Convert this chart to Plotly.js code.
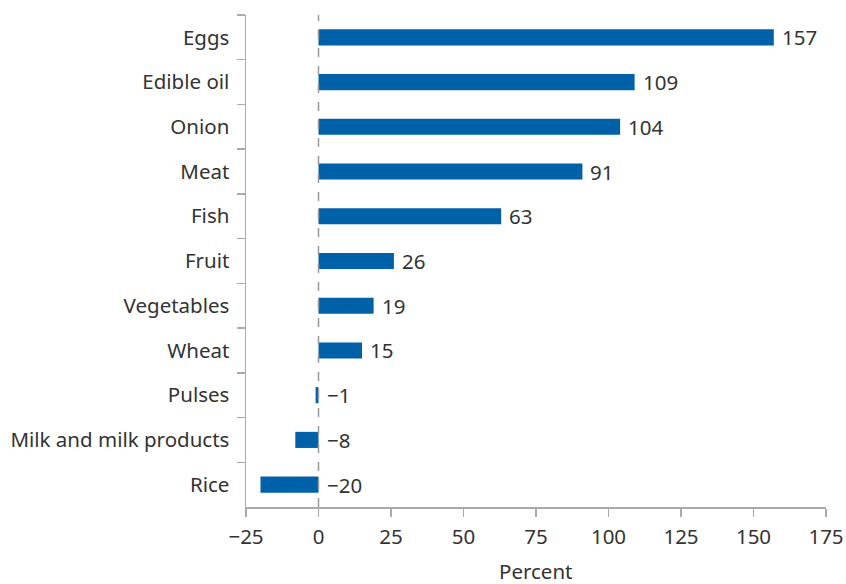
<!DOCTYPE html>
<html><head><meta charset="utf-8">
<script src="https://cdn.plot.ly/plotly-3.0.1.min.js"></script>
<style>html,body{margin:0;padding:0;background:#fff}#chart{width:846px;height:584px}</style>
</head><body><div id="chart"></div>
<script>
const categories = ["Eggs","Edible oil","Onion","Meat","Fish","Fruit","Vegetables","Wheat","Pulses","Milk and milk products","Rice"];
const values = [157,109,104,91,63,26,19,15,-1,-8,-20];
const xTicks = [-25,0,25,50,75,100,125,150,175];
const xTickLabels = xTicks.map(v => v < 0 ? "\u2212" + Math.abs(v) : String(v));
const xTitle = "Percent";
const fmt = v => v < 0 ? "\u2212" + Math.abs(v) : String(v);

const font = {family: "Noto Sans, Open Sans, sans-serif", size: 20.5, color: "#333"};

const annotations = categories.map((c, i) => ({
  x: Math.max(values[i], 0), y: c, xref: "x", yref: "y",
  text: fmt(values[i]), showarrow: false, xanchor: "left", xshift: 6,
  font: font
}));
annotations.push({
  x: 0.5, y: 0, xref: "paper", yref: "paper", yshift: -64,
  xanchor: "center", yanchor: "middle", text: xTitle, showarrow: false, font: font
});

Plotly.newPlot("chart", [{
  type: "bar", orientation: "h", y: categories, x: values,
  marker: {color: "#0061a8"}, width: 0.36, hoverinfo: "skip"
}], {
  width: 846, height: 584,
  margin: {l: 246, r: 20, t: 15, b: 77},
  paper_bgcolor: "#fff", plot_bgcolor: "#fff",
  showlegend: false, font: font,
  xaxis: {range: [-25, 175], tickvals: xTicks, ticktext: xTickLabels,
    showgrid: false, zeroline: false, showline: true, linecolor: "#aaa", linewidth: 1.5,
    ticks: "outside", ticklen: 8, tickwidth: 1.5, tickcolor: "#aaa", tickfont: font,
    ticklabelstandoff: 3},
  yaxis: {type: "category", categoryorder: "array", categoryarray: categories,
    autorange: "reversed", showgrid: false, zeroline: false, showline: true,
    linecolor: "#aaa", linewidth: 1.5, ticks: "outside", ticklen: 8, tickwidth: 1.5,
    tickcolor: "#aaa", tickson: "boundaries", tickfont: font, ticklabelstandoff: 11},
  shapes: [{type: "line", xref: "x", yref: "paper", x0: 0, x1: 0, y0: 0, y1: 1,
    line: {color: "#999", width: 1.5, dash: "dash"}}],
  annotations: annotations
}, {displayModeBar: false, staticPlot: true});
</script></body></html>
